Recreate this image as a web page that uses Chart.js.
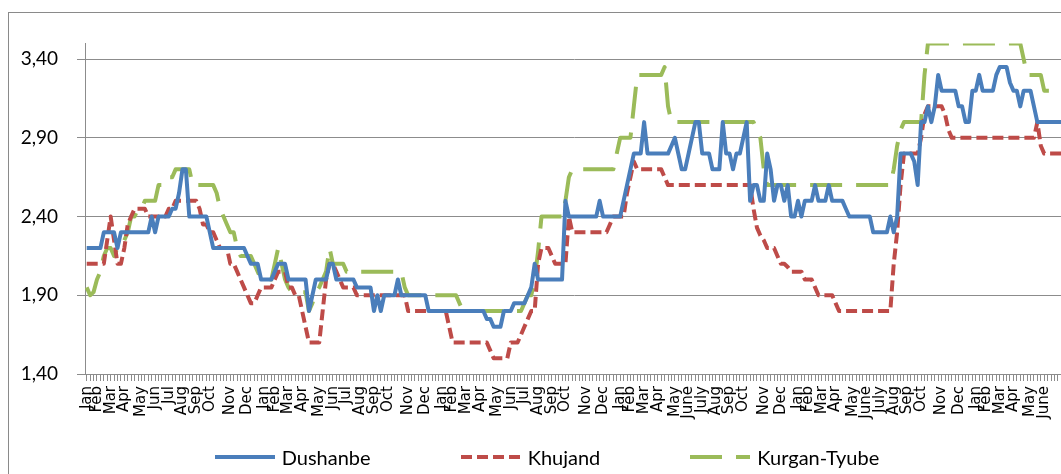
<!DOCTYPE html>
<html lang="en">
<head>
  <meta charset="UTF-8">
  <title>Dushanbe, Khujand, Kurgan-Tyube</title>
  <script src="https://cdn.jsdelivr.net/npm/chart.js"></script>
  <style>
    html, body { margin: 0; padding: 0; background: #fff; overflow: hidden; width: 1061px; height: 474px; }
    #chartBox { position: absolute; left: 8px; top: 12px; width: 1100px; height: 470px; border: 1px solid #8a8a8a; }
    #chartBox canvas { display: block; }
    /* leyenda en HTML, debajo del eje X */
    #legend { position: absolute; left: 0; top: 445px; width: 1094px; display: flex; justify-content: center; gap: 90px;
              font-family: Lato, "Open Sans", sans-serif; font-size: 20px; line-height: 24px; color: #000; }
    #legend .item { display: flex; align-items: center; white-space: nowrap; }
    #legend svg { margin-right: 7px; }
  </style>
</head>
<body>
  <div id="chartBox"><canvas id="myChart"></canvas></div>
  <div id="legend"></div>

  <script>
    // Meses (etiquetas del eje X) y cuantas observaciones semanales tiene cada mes
    const monthNames = [
      'Jan','Feb','Mar','Apr','May','Jun','Jul','Aug','Sep','Oct','Nov','Dec',
      'Jan','Feb','Mar','Apr','May','Jun','Jul','Aug','Sep','Oct','Nov','Dec',
      'Jan','Feb','Mar','Apr','May','Jun','Jul','Aug','Sep','Oct','Nov','Dec',
      'Jan','Feb','Mar','Apr','May','June','July','Aug','Sep','Oct','Nov','Dec',
      'Jan','Feb','Mar','Apr','May','June','July','Aug','Sep','Oct','Nov','Dec',
      'Jan','Feb','Mar','Apr','May','June'
    ];
    const weeksPerMonth = [
      3,4,4,5,4,4,4,4,4,6,5,5,
      3,4,4,5,4,4,4,4,4,6,5,5,
      3,4,4,5,4,4,4,4,4,6,5,5,
      3,4,4,5,4,4,4,4,4,6,5,5,
      3,4,4,5,4,4,4,4,4,6,5,5,
      3,4,4,5,4,6
    ];

    // Precios semanales por ciudad
    const dushanbe = [
      2.20,2.20,2.20,2.20,2.20,2.30,2.30,2.30,2.30,2.20,
      2.30,2.30,2.30,2.30,2.30,2.30,2.30,2.30,2.30,2.40,
      2.30,2.40,2.40,2.40,2.40,2.45,2.45,2.55,2.70,2.70,
      2.40,2.40,2.40,2.40,2.40,2.40,2.30,2.20,2.20,2.20,
      2.20,2.20,2.20,2.20,2.20,2.20,2.20,2.15,2.10,2.10,
      2.10,2.00,2.00,2.00,2.00,2.05,2.10,2.10,2.10,2.00,
      2.00,2.00,2.00,2.00,2.00,1.80,1.90,2.00,2.00,2.00,
      2.00,2.10,2.10,2.00,2.00,2.00,2.00,2.00,2.00,1.95,
      1.95,1.95,1.95,1.95,1.80,1.90,1.80,1.90,1.90,1.90,
      1.90,2.00,1.90,1.90,1.90,1.90,1.90,1.90,1.90,1.90,
      1.80,1.80,1.80,1.80,1.80,1.80,1.80,1.80,1.80,1.80,
      1.80,1.80,1.80,1.80,1.80,1.80,1.80,1.75,1.75,1.70,
      1.70,1.70,1.80,1.80,1.80,1.85,1.85,1.85,1.85,1.90,
      1.95,2.10,2.00,2.00,2.00,2.00,2.00,2.00,2.00,2.00,
      2.50,2.40,2.40,2.40,2.40,2.40,2.40,2.40,2.40,2.40,
      2.50,2.40,2.40,2.40,2.40,2.40,2.40,2.50,2.60,2.70,
      2.80,2.80,2.80,3.00,2.80,2.80,2.80,2.80,2.80,2.80,
      2.80,2.85,2.90,2.80,2.70,2.70,2.80,2.90,3.00,3.00,
      2.80,2.80,2.80,2.70,2.70,2.70,3.00,2.80,2.80,2.70,
      2.80,2.80,2.90,3.00,2.50,2.60,2.60,2.50,2.50,2.80,
      2.70,2.50,2.60,2.60,2.50,2.60,2.40,2.40,2.50,2.40,
      2.50,2.50,2.50,2.60,2.50,2.50,2.50,2.60,2.50,2.50,
      2.50,2.50,2.45,2.40,2.40,2.40,2.40,2.40,2.40,2.40,
      2.30,2.30,2.30,2.30,2.30,2.40,2.30,2.40,2.80,2.80,
      2.80,2.80,2.75,2.60,3.00,3.00,3.10,3.00,3.10,3.30,
      3.20,3.20,3.20,3.20,3.20,3.10,3.10,3.00,3.00,3.20,
      3.20,3.30,3.20,3.20,3.20,3.20,3.30,3.35,3.35,3.35,
      3.25,3.20,3.20,3.10,3.20,3.20,3.20,3.10,3.00,3.00,
      3.00,3.00,3.00,3.00,3.00,3.00
    ];

    const khujand = [
      2.10,2.10,2.10,2.10,2.10,2.10,2.25,2.40,2.25,2.10,
      2.10,2.20,2.35,2.40,2.45,2.45,2.45,2.45,2.40,2.40,
      2.40,2.40,2.40,2.40,2.45,2.45,2.50,2.50,2.50,2.50,
      2.50,2.50,2.50,2.45,2.35,2.35,2.30,2.30,2.25,2.20,
      2.20,2.20,2.10,2.10,2.05,2.00,1.95,1.90,1.85,1.85,
      1.90,1.95,1.95,1.95,1.95,2.00,2.05,2.05,2.05,1.95,
      1.95,1.90,1.90,1.80,1.70,1.60,1.60,1.60,1.60,1.80,
      2.00,2.10,2.10,2.05,2.00,1.95,1.95,1.95,1.95,1.90,
      1.90,1.90,1.90,1.90,1.90,1.90,1.90,1.90,1.90,1.90,
      1.90,1.90,1.90,1.90,1.80,1.80,1.80,1.80,1.80,1.80,
      1.80,1.80,1.80,1.80,1.80,1.80,1.70,1.60,1.60,1.60,
      1.60,1.60,1.60,1.60,1.60,1.60,1.60,1.60,1.55,1.50,
      1.50,1.50,1.50,1.50,1.60,1.60,1.60,1.65,1.70,1.75,
      1.80,1.80,2.10,2.20,2.20,2.20,2.15,2.10,2.10,2.10,
      2.10,2.40,2.30,2.30,2.30,2.30,2.30,2.30,2.30,2.30,
      2.30,2.30,2.30,2.35,2.40,2.40,2.40,2.40,2.55,2.65,
      2.75,2.70,2.70,2.70,2.70,2.70,2.70,2.70,2.70,2.65,
      2.60,2.60,2.60,2.60,2.60,2.60,2.60,2.60,2.60,2.60,
      2.60,2.60,2.60,2.60,2.60,2.60,2.60,2.60,2.60,2.60,
      2.60,2.60,2.60,2.60,2.60,2.45,2.33,2.28,2.25,2.20,
      2.20,2.20,2.15,2.10,2.10,2.08,2.05,2.05,2.05,2.05,
      2.00,2.00,2.00,1.95,1.90,1.90,1.90,1.90,1.90,1.85,
      1.80,1.80,1.80,1.80,1.80,1.80,1.80,1.80,1.80,1.80,
      1.80,1.80,1.80,1.80,1.80,1.80,2.10,2.30,2.60,2.80,
      2.80,2.80,2.80,2.80,2.90,3.05,3.10,3.10,3.10,3.10,
      3.10,3.05,2.95,2.90,2.90,2.90,2.90,2.90,2.90,2.90,
      2.90,2.90,2.90,2.90,2.90,2.90,2.90,2.90,2.90,2.90,
      2.90,2.90,2.90,2.90,2.90,2.90,2.90,2.90,3.00,2.85,
      2.80,2.80,2.80,2.80,2.80,2.80
    ];

    const kurganTyube = [
      1.95,1.90,1.92,2.00,2.05,2.15,2.20,2.20,2.15,2.20,
      2.20,2.25,2.30,2.40,2.40,2.45,2.45,2.50,2.50,2.50,
      2.50,2.60,2.60,2.65,2.65,2.65,2.70,2.70,2.70,2.70,
      2.70,2.60,2.60,2.60,2.60,2.60,2.60,2.60,2.55,2.45,
      2.40,2.35,2.30,2.30,2.20,2.15,2.15,2.15,2.15,2.10,
      2.05,2.00,2.00,2.00,2.00,2.10,2.20,2.10,2.00,1.95,
      1.92,1.92,1.92,1.92,1.92,1.80,1.85,1.92,1.95,2.00,
      2.05,2.20,2.10,2.10,2.10,2.10,2.05,2.05,2.05,2.05,
      2.05,2.05,2.05,2.05,2.05,2.05,2.05,2.05,2.05,2.05,
      2.05,2.05,2.05,1.95,1.90,1.90,1.90,1.90,1.90,1.90,
      1.90,1.90,1.90,1.90,1.90,1.90,1.90,1.90,1.90,1.85,
      1.80,1.80,1.80,1.80,1.80,1.80,1.80,1.80,1.80,1.80,
      1.80,1.80,1.80,1.80,1.80,1.80,1.80,1.80,1.85,1.90,
      1.90,2.00,2.18,2.40,2.40,2.40,2.40,2.40,2.40,2.40,
      2.50,2.65,2.70,2.70,2.70,2.70,2.70,2.70,2.70,2.70,
      2.70,2.70,2.70,2.70,2.70,2.80,2.90,2.90,2.90,2.90,
      3.10,3.30,3.30,3.30,3.30,3.30,3.30,3.30,3.30,3.35,
      3.10,3.00,3.00,3.00,3.00,3.00,3.00,3.00,3.00,3.00,
      3.00,3.00,3.00,3.00,3.00,3.00,3.00,3.00,3.00,3.00,
      3.00,3.00,3.00,3.00,3.00,3.00,2.95,2.90,2.70,2.60,
      2.60,2.60,2.60,2.60,2.60,2.60,2.60,2.60,2.60,2.60,
      2.60,2.60,2.60,2.60,2.60,2.60,2.60,2.60,2.60,2.60,
      2.60,2.60,2.60,2.60,2.60,2.60,2.60,2.60,2.60,2.60,
      2.60,2.60,2.60,2.60,2.60,2.60,2.70,2.85,2.95,3.00,
      3.00,3.00,3.00,3.00,3.00,3.30,3.50,3.50,3.50,3.50,
      3.50,3.50,3.50,3.50,3.50,3.50,3.50,3.50,3.50,3.50,
      3.50,3.50,3.50,3.50,3.50,3.50,3.50,3.50,3.50,3.50,
      3.50,3.50,3.50,3.50,3.40,3.30,3.30,3.30,3.30,3.30,
      3.20,3.20,3.20,3.20,3.20,3.20
    ];

    // Marcas del eje Y
    const yTicks = [1.40, 1.90, 2.40, 2.90, 3.40];

    // Etiqueta de mes solo en la primera semana de cada mes
    const labels = [];
    monthNames.forEach((name, m) => {
      for (let w = 0; w < weeksPerMonth[m]; w++) {
        labels.push(w === 0 ? name : '');
      }
    });

    const gridGrey = '#8c8c8c';

    const ctx = document.getElementById('myChart').getContext('2d');
    const chart = new Chart(ctx, {
      type: 'line',
      data: {
        labels: labels,
        datasets: [
          {
            label: 'Dushanbe',
            data: dushanbe,
            borderColor: '#4A7EBB',
            borderWidth: 4,
            borderDash: [],
            borderJoinStyle: 'round',
            pointRadius: 0,
            fill: false,
            tension: 0
          },
          {
            label: 'Khujand',
            data: khujand,
            borderColor: '#BE4B48',
            borderWidth: 4,
            borderDash: [11, 5],
            borderJoinStyle: 'round',
            pointRadius: 0,
            fill: false,
            tension: 0
          },
          {
            label: 'Kurgan-Tyube',
            data: kurganTyube,
            borderColor: '#9BBB59',
            borderWidth: 4,
            borderDash: [32, 14],
            borderJoinStyle: 'round',
            pointRadius: 0,
            fill: false,
            tension: 0
          }
        ]
      },
      options: {
        responsive: true,
        maintainAspectRatio: false,
        animation: false,
        layout: {
          padding: { left: 0, right: 46, top: 14, bottom: 49 }
        },
        scales: {
          x: {
            type: 'category',
            offset: true,
            grid: {
              display: true,
              drawOnChartArea: false,
              drawTicks: true,
              tickLength: 7,
              color: gridGrey
            },
            border: { display: true, color: gridGrey, width: 1 },
            ticks: {
              autoSkip: false,
              minRotation: 90,
              maxRotation: 90,
              padding: 5,
              color: '#000',
              font: { family: '"DejaVu Sans", sans-serif', size: 15 }
            },
            afterFit: (scale) => { scale.height = 60; }
          },
          y: {
            min: 1.4,
            max: 3.5,
            afterBuildTicks: (scale) => {
              scale.ticks = yTicks.map(v => ({ value: v }));
            },
            afterFit: (scale) => { scale.width = 76; },
            grid: {
              color: gridGrey,
              lineWidth: 1,
              drawTicks: true,
              tickLength: 8
            },
            border: { display: true, color: gridGrey, width: 1 },
            ticks: {
              padding: 19,
              color: '#000',
              font: { family: 'Lato, "Open Sans", sans-serif', size: 19 },
              callback: (value) => Number(value).toFixed(2).replace('.', ',')
            }
          }
        },
        plugins: {
          legend: { display: false },
          tooltip: { enabled: false }
        }
      }
    });

    // Leyenda: una muestra de linea (mismo color y trazo) y el nombre de cada serie
    const legendDiv = document.getElementById('legend');
    chart.data.datasets.forEach((ds) => {
      const item = document.createElement('span');
      item.className = 'item';
      item.innerHTML =
        '<svg width="60" height="8"><line x1="0" y1="4" x2="60" y2="4" stroke="' + ds.borderColor +
        '" stroke-width="4" stroke-dasharray="' + (ds.borderDash.length ? ds.borderDash.join(' ') : 'none') +
        '"/></svg>';
      item.appendChild(document.createTextNode(ds.label));
      legendDiv.appendChild(item);
    });
  </script>
</body>
</html>
